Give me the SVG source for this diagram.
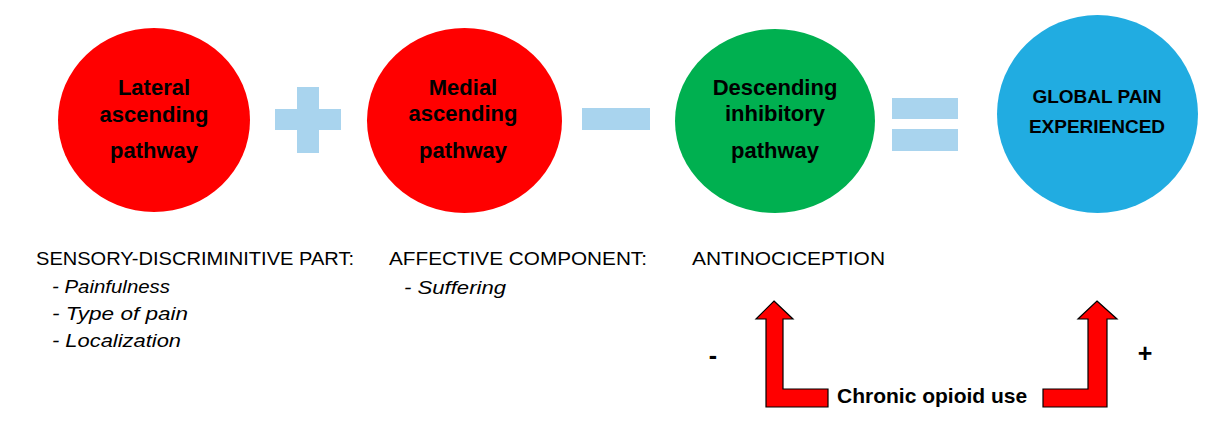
<svg xmlns="http://www.w3.org/2000/svg" width="1211" height="430" viewBox="0 0 1211 430">
<style>
.t{font-family:"Liberation Sans",Arial,sans-serif;font-weight:bold;font-size:22px;fill:#000;text-anchor:middle}
.g{font-family:"Liberation Sans",Arial,sans-serif;font-weight:bold;font-size:19px;fill:#000;text-anchor:middle}
.l{font-family:"Liberation Sans",Arial,sans-serif;font-size:18px;fill:#000}
.i{font-family:"Liberation Sans",Arial,sans-serif;font-size:18px;font-style:italic;fill:#000}
.b{font-family:"Liberation Sans",Arial,sans-serif;font-weight:bold;font-size:21px;fill:#000}
.s{font-family:"Liberation Sans",Arial,sans-serif;font-weight:bold;font-size:25px;fill:#000;text-anchor:middle}
.op{fill:#A9D4EE}
.arr{fill:#FF0000;stroke:#000;stroke-width:1.2;stroke-linejoin:miter}
</style>
<rect width="1211" height="430" fill="#fff"/>
<g id="lateral">
<ellipse cx="154" cy="120" rx="96" ry="92" fill="#FF0000"/>
<text class="t" x="154" y="95">Lateral</text>
<text class="t" x="154" y="122">ascending</text>
<text class="t" x="154" y="158">pathway</text>
</g>
<g id="plus">
<rect class="op" x="297" y="87" width="22" height="66"/>
<rect class="op" x="275" y="109" width="66" height="21"/>
</g>
<g id="medial">
<ellipse cx="464.5" cy="120.5" rx="97.5" ry="92.5" fill="#FF0000"/>
<text class="t" x="463" y="95">Medial</text>
<text class="t" x="463" y="121">ascending</text>
<text class="t" x="463" y="158">pathway</text>
</g>
<g id="minus">
<rect class="op" x="582" y="108" width="68" height="22"/>
</g>
<g id="descending">
<ellipse cx="775" cy="121" rx="100" ry="92" fill="#00B050"/>
<text class="t" x="775" y="95">Descending</text>
<text class="t" x="775" y="121">inhibitory</text>
<text class="t" x="775" y="158">pathway</text>
</g>
<g id="equals">
<rect class="op" x="892" y="98" width="66" height="21"/>
<rect class="op" x="892" y="129" width="66" height="22"/>
</g>
<g id="global">
<ellipse cx="1097.5" cy="114" rx="100.5" ry="99" fill="#21ACE1"/>
<text class="g" x="1097" y="103">GLOBAL PAIN</text>
<text class="g" x="1097" y="133">EXPERIENCED</text>
</g>
<g id="sensory">
<text class="l" x="36" y="265" textLength="318" lengthAdjust="spacingAndGlyphs">SENSORY-DISCRIMINITIVE PART:</text>
<text class="i" x="52" y="293" textLength="118" lengthAdjust="spacingAndGlyphs">- Painfulness</text>
<text class="i" x="52" y="320" textLength="136" lengthAdjust="spacingAndGlyphs">- Type of  pain</text>
<text class="i" x="52" y="347" textLength="129" lengthAdjust="spacingAndGlyphs">- Localization</text>
</g>
<g id="affective">
<text class="l" x="389" y="265" textLength="258" lengthAdjust="spacingAndGlyphs">AFFECTIVE COMPONENT:</text>
<text class="i" x="404" y="294" textLength="102" lengthAdjust="spacingAndGlyphs">- Suffering</text>
</g>
<g id="antinociception">
<text class="l" x="692" y="265" textLength="193" lengthAdjust="spacingAndGlyphs">ANTINOCICEPTION</text>
</g>
<g id="opioid">
<text class="b" x="837" y="403">Chronic opioid use</text>
</g>
<g id="connectors">
<path class="arr" d="M774,301 L793,319 L783,319 L783,389 L828,389 L828,407 L766,407 L766,319 L756,319 Z"/>
<path class="arr" d="M1097,301 L1117,319 L1107,319 L1107,407 L1043,407 L1043,389 L1088,389 L1088,319 L1078,319 Z"/>
<text class="s" x="713" y="364">-</text>
<text class="s" x="1145" y="362">+</text>
</g>
</svg>
